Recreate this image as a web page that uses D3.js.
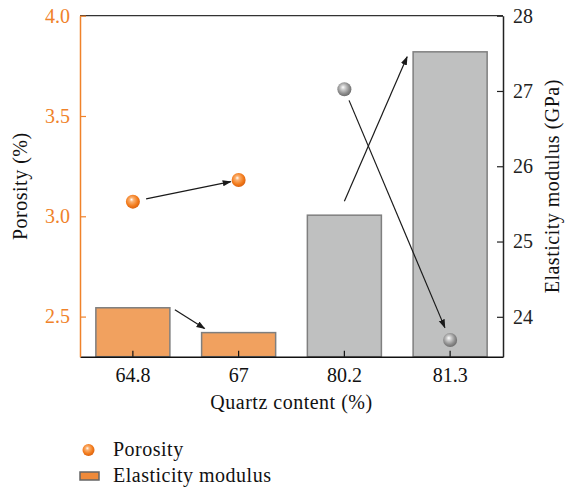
<!DOCTYPE html>
<html>
<head>
<meta charset="utf-8">
<script src="https://cdn.jsdelivr.net/npm/d3@7"></script>
<style>
  body { margin: 0; background: #fff; }
  svg, svg text { font-family: "Liberation Serif", "DejaVu Serif", serif; }
</style>
</head>
<body>
<div class="container"></div>
<script>
/* chart data */
const quartz = ["64.8", "67", "80.2", "81.3"];
const porosity = [3.073, 3.181, 3.633, 2.383];
const modulus = [24.12, 23.79, 25.35, 27.52];
const leftTicks = [2.5, 3.0, 3.5, 4.0];
const rightTicks = [24, 25, 26, 27, 28];

const w = 565;
const h = 489;
const orange = "#f0822a";
const fs = 20;
const serif = "'Liberation Serif', 'DejaVu Serif', serif";
const plotL = 80, plotR = 503, plotT = 15.7, plotB = 356.7;

const svg = d3.select(".container")
              .append("svg")
              .attr("width", w)
              .attr("height", h);

const defs = svg.append("defs");
// sphere-looking gradients for the points
const makeBall = (id, light, main, dark) => {
    const g = defs.append("radialGradient")
                  .attr("id", id)
                  .attr("cx", "45%").attr("cy", "42%").attr("r", "60%")
                  .attr("fx", "40%").attr("fy", "35%");
    g.append("stop").attr("offset", "0%").attr("stop-color", "#ffffff");
    g.append("stop").attr("offset", "25%").attr("stop-color", light);
    g.append("stop").attr("offset", "70%").attr("stop-color", main);
    g.append("stop").attr("offset", "100%").attr("stop-color", dark);
};
makeBall("ballOrange", "#fbb070", "#f27a1a", "#d86010");
makeBall("ballGray", "#d0d0d0", "#8c8c8c", "#6a6a6a");

const marker = defs.append("marker")
                   .attr("id", "arrow")
                   .attr("viewBox", "0 0 10 10")
                   .attr("refX", 9).attr("refY", 5)
                   .attr("markerWidth", 9).attr("markerHeight", 9)
                   .attr("markerUnits", "userSpaceOnUse")
                   .attr("orient", "auto");
marker.append("path").attr("d", "M0,1.5 L10,5 L0,8.5 Z").attr("fill", "#1a1a1a");

/* scales */
const xScale = d3.scaleBand()
                 .domain(quartz)
                 .range([plotL, plotR])
                 .paddingInner(0.3)
                 .paddingOuter(0.15);
const yLeft = d3.scaleLinear().domain([2.3, 4.0]).range([plotB, plotT]);
const yRight = d3.scaleLinear().domain([23.47, 28]).range([plotB, plotT]);

const cx = (i) => xScale(quartz[i]) + xScale.bandwidth() / 2;

/* bars */
svg.selectAll("rect.bar")
   .data(modulus)
   .enter()
   .append("rect")
   .attr("class", "bar")
   .attr("x", (d, i) => xScale(quartz[i]))
   .attr("y", (d) => yRight(d))
   .attr("width", xScale.bandwidth())
   .attr("height", (d) => plotB - yRight(d))
   .attr("fill", (d, i) => i < 2 ? "#f1a15f" : "#bfc0c0")
   .attr("stroke", "#7f7f7f")
   .attr("stroke-width", 1.5);

/* top frame line */
svg.append("line")
   .attr("x1", plotL).attr("x2", plotR)
   .attr("y1", plotT).attr("y2", plotT)
   .attr("stroke", "#333").attr("stroke-width", 1.2);

/* axes */
const styleAxis = (g, color) => {
    g.attr("font-family", serif).attr("font-size", fs);
    g.select(".domain").attr("stroke", color).attr("stroke-width", 1.5);
    g.selectAll(".tick line").attr("stroke", color).attr("stroke-width", 1.2);
    g.selectAll("text")
     .style("font-family", serif)
     .attr("font-size", fs).attr("fill", color);
};

const xAxis = d3.axisBottom(xScale).tickSizeInner(-6).tickSizeOuter(0).tickPadding(11);
const gx = svg.append("g")
   .attr("transform", "translate(0," + plotB + ")")
   .call(xAxis);
styleAxis(gx, "#111");

const yAxisL = d3.axisLeft(yLeft).tickValues(leftTicks).tickFormat(d3.format(".1f"))
                 .tickSizeInner(-6).tickSizeOuter(0).tickPadding(10);
const gl = svg.append("g")
   .attr("transform", "translate(" + plotL + ",0)")
   .call(yAxisL);
styleAxis(gl, orange);

const yAxisR = d3.axisRight(yRight).tickValues(rightTicks).tickFormat(d3.format("d"))
                 .tickSizeInner(-6).tickSizeOuter(0).tickPadding(10);
const gr = svg.append("g")
   .attr("transform", "translate(" + plotR + ",0)")
   .call(yAxisR);
styleAxis(gr, "#222");

/* axis titles */
svg.append("text")
   .text("Quartz content (%)")
   .attr("x", (plotL + plotR) / 2)
   .attr("y", 409)
   .attr("text-anchor", "middle")
   .attr("letter-spacing", 0.5)
   .attr("font-size", fs).attr("fill", "#111");
svg.append("text")
   .text("Porosity (%)")
   .attr("transform", "translate(27," + ((plotT + plotB) / 2) + ") rotate(-90)")
   .attr("text-anchor", "middle")
   .attr("letter-spacing", 0.5)
   .attr("font-size", fs).attr("fill", "#111");
svg.append("text")
   .text("Elasticity modulus (GPa)")
   .attr("transform", "translate(559," + ((plotT + plotB) / 2) + ") rotate(-90)")
   .attr("text-anchor", "middle")
   .attr("letter-spacing", 0.5)
   .attr("font-size", fs).attr("fill", "#111");

/* arrows (computed from the data positions) */
const arrow = (x1, y1, x2, y2, s, e) => {
    const dx = x2 - x1, dy = y2 - y1, len = Math.hypot(dx, dy);
    svg.append("line")
       .attr("x1", x1 + dx / len * s).attr("y1", y1 + dy / len * s)
       .attr("x2", x2 - dx / len * e).attr("y2", y2 - dy / len * e)
       .attr("stroke", "#1a1a1a").attr("stroke-width", 1.2)
       .attr("marker-end", "url(#arrow)");
};
// porosity 64.8 -> 67
arrow(cx(0), yLeft(porosity[0]), cx(1), yLeft(porosity[1]), 13.5, 8);
// modulus 64.8 -> 67
arrow(xScale(quartz[0]) + xScale.bandwidth() + 5, yRight(modulus[0]) + 2,
      xScale(quartz[1]) + 3, yRight(modulus[1]) - 4, 0, 0);
// modulus 80.2 -> 81.3
arrow(cx(2), yRight(modulus[2]) - 14, xScale(quartz[3]) - 6, yRight(modulus[3]) + 5, 0, 0);
// porosity 80.2 -> 81.3
arrow(cx(2), yLeft(porosity[2]), cx(3), yLeft(porosity[3]), 12, 13.5);

/* porosity points */
svg.selectAll("circle.pt")
   .data(porosity)
   .enter()
   .append("circle")
   .attr("class", "pt")
   .attr("cx", (d, i) => cx(i))
   .attr("cy", (d) => yLeft(d))
   .attr("r", 7)
   .attr("fill", (d, i) => i < 2 ? "url(#ballOrange)" : "url(#ballGray)");

/* legend */
const legend = svg.append("g");
legend.append("circle")
      .attr("cx", 88.5).attr("cy", 450).attr("r", 6)
      .attr("fill", "url(#ballOrange)");
legend.append("text")
      .text("Porosity")
      .attr("x", 113).attr("y", 456)
      .attr("letter-spacing", 0.5)
      .attr("font-size", fs).attr("fill", "#111");
legend.append("rect")
      .attr("x", 80).attr("y", 472)
      .attr("width", 19).attr("height", 8)
      .attr("fill", "#ef8a3a").attr("stroke", "#666").attr("stroke-width", 1.5);
legend.append("text")
      .text("Elasticity modulus")
      .attr("x", 113).attr("y", 482)
      .attr("letter-spacing", 0.5)
      .attr("font-size", fs).attr("fill", "#111");
</script>
</body>
</html>
